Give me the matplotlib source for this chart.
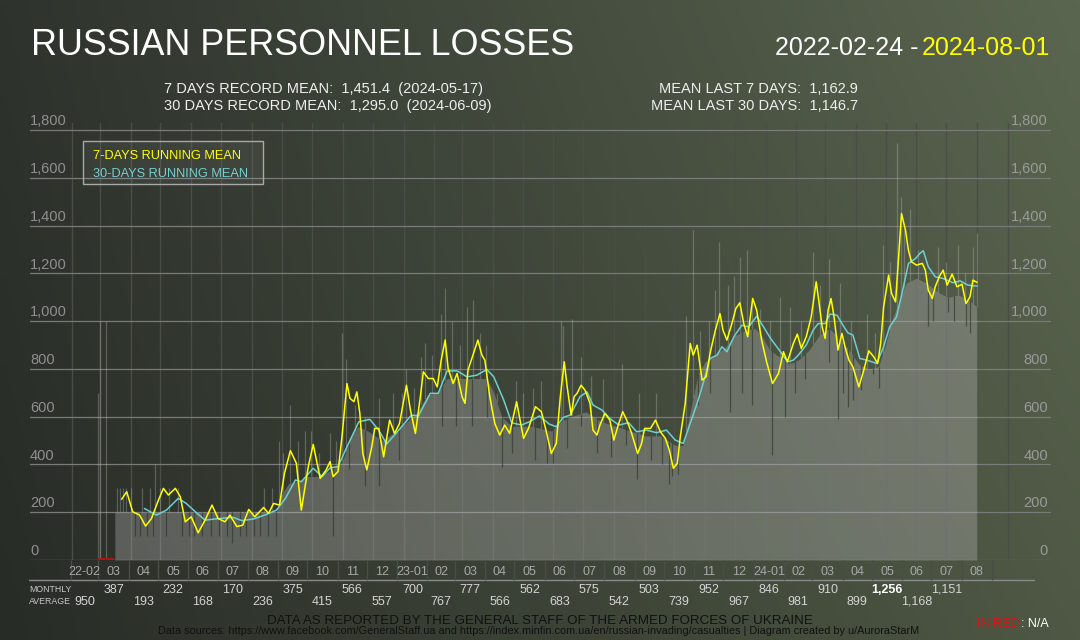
import numpy as np
import matplotlib
matplotlib.use('Agg')
import matplotlib.pyplot as plt
from matplotlib.patches import Rectangle

plt.rcParams['font.family'] = ['Liberation Sans', 'DejaVu Sans']

START = np.datetime64('2022-02-24')

# 7-day running mean: (days since 2022-02-24, value)
mean7 = [(27, 255), (32, 286), (38, 202), (45, 188), (51, 142), (57, 174), (64, 251), (69, 300),
         (74, 272), (81, 300), (86, 265), (91, 160), (97, 181), (104, 114), (111, 167), (118, 230),
         (124, 174), (131, 160), (136, 188), (143, 140), (149, 146), (155, 212), (161, 181),
         (170, 220), (175, 195), (180, 237), (186, 230), (191, 363), (197, 458), (203, 405),
         (208, 209), (215, 391), (220, 484), (227, 342), (233, 377), (237, 412), (240, 349),
         (245, 370), (249, 516), (254, 739), (257, 677), (261, 663), (264, 704), (267, 614),
         (270, 446), (274, 377), (279, 474), (282, 551), (286, 551), (291, 432), (297, 586),
         (302, 530), (307, 572), (314, 732), (318, 628), (323, 530), (328, 684), (331, 788),
         (336, 760), (341, 760), (345, 725), (349, 837), (353, 921), (356, 802), (361, 739),
         (365, 781), (370, 684), (373, 656), (376, 795), (381, 858), (386, 921), (390, 858),
         (393, 837), (398, 684), (403, 572), (408, 523), (413, 565), (418, 530), (425, 663),
         (432, 509), (437, 551), (444, 642), (450, 621), (455, 537), (460, 446), (465, 488),
         (469, 680), (473, 830), (476, 725), (480, 607), (483, 684), (486, 698), (490, 732),
         (494, 711), (499, 656), (502, 544), (506, 523), (509, 565), (514, 614), (519, 586),
         (523, 502), (528, 572), (532, 621), (536, 586), (541, 530), (547, 446), (551, 488),
         (554, 551), (560, 551), (565, 586), (570, 537), (575, 509), (579, 460), (583, 384),
         (587, 405), (590, 516), (595, 656), (600, 907), (603, 858), (607, 900), (612, 753),
         (616, 767), (620, 865), (625, 956), (630, 1032), (633, 963), (637, 921), (642, 990),
         (646, 1053), (650, 1077), (654, 990), (658, 935), (663, 1095), (667, 1046), (672, 921),
         (677, 830), (683, 739), (689, 781), (694, 872), (698, 830), (704, 907), (708, 946),
         (712, 886), (717, 935), (722, 1018), (727, 1165), (730, 1074), (733, 976), (736, 928),
         (739, 1046), (742, 1095), (745, 1018), (749, 879), (753, 949), (756, 893), (760, 837),
         (764, 809), (770, 725), (775, 795), (780, 876), (785, 851), (789, 823), (792, 907),
         (795, 1060), (800, 1193), (803, 1116), (807, 1081), (809, 1200), (811, 1325),
         (813, 1451), (817, 1381), (820, 1297), (823, 1249), (828, 1235), (834, 1242),
         (837, 1214), (840, 1130), (844, 1095), (847, 1144), (851, 1186), (855, 1214),
         (859, 1151), (864, 1197), (869, 1144), (874, 1155), (878, 1074), (882, 1102),
         (885, 1172), (889, 1163)]

# 30-day running mean
mean30 = [(50, 215), (62, 188), (72, 209), (84, 258), (92, 237), (103, 195), (111, 167),
          (126, 174), (139, 179), (148, 165), (160, 172), (173, 191), (183, 209), (192, 258),
          (202, 335), (208, 328), (220, 384), (229, 349), (237, 386), (245, 391), (254, 474),
          (266, 579), (277, 589), (286, 544), (294, 486), (304, 533), (319, 607), (326, 603),
          (338, 698), (346, 698), (355, 792), (365, 792), (375, 767), (385, 774), (395, 798),
          (402, 767), (412, 670), (420, 575), (430, 565), (438, 579), (448, 603), (458, 569),
          (465, 558), (472, 597), (479, 607), (489, 684), (496, 704), (502, 649), (511, 628),
          (519, 593), (528, 565), (538, 575), (546, 537), (556, 544), (566, 533), (576, 544),
          (585, 502), (593, 488), (600, 572), (607, 656), (613, 739), (620, 844), (627, 858),
          (632, 893), (637, 872), (644, 935), (652, 983), (659, 976), (667, 1021), (674, 976),
          (681, 928), (691, 872), (698, 830), (704, 837), (709, 858), (717, 900), (724, 963),
          (729, 990), (736, 990), (741, 1030), (748, 1025), (754, 983), (759, 951), (764, 942),
          (771, 844), (778, 837), (788, 823), (795, 893), (801, 976), (808, 1018), (815, 1144),
          (820, 1242), (827, 1262), (832, 1286), (835, 1295), (840, 1228), (847, 1186),
          (855, 1179), (865, 1161), (872, 1169), (880, 1151), (889, 1147)]

# typical daily level (body of the daily bars)
daily_base = [(20, 200), (183, 200), (186, 260), (195, 320), (205, 330), (215, 350), (225, 350),
              (235, 370), (247, 400), (250, 420), (258, 520), (265, 560), (275, 540), (290, 500),
              (300, 530), (315, 580), (325, 620), (335, 690), (345, 700), (355, 760), (395, 760),
              (402, 700), (410, 600), (420, 560), (440, 560), (460, 540), (470, 580), (480, 600),
              (495, 620), (510, 580), (525, 560), (540, 540), (555, 520), (570, 520), (585, 480),
              (593, 480), (600, 620), (608, 780), (615, 830), (625, 860), (635, 890), (645, 940),
              (655, 960), (665, 970), (672, 940), (680, 880), (690, 850), (700, 820), (710, 840),
              (720, 880), (730, 940), (740, 970), (750, 930), (760, 880), (770, 820), (780, 800),
              (790, 810), (797, 900), (803, 1000), (810, 1080), (818, 1160), (828, 1180),
              (838, 1160), (850, 1120), (860, 1100), (870, 1110), (880, 1090), (889, 1060)]

# single days well above the typical level
high_days = [(3, 700), (5, 1000), (11, 1000), (22, 300), (25, 300), (28, 300), (31, 300),
             (36, 300), (47, 300), (55, 300), (60, 400), (66, 300), (75, 300), (84, 300),
             (170, 300), (178, 300), (185, 500), (190, 450), (197, 650), (205, 500), (212, 540),
             (218, 540), (226, 450), (237, 530), (243, 500), (249, 950), (253, 840), (262, 650),
             (272, 600), (286, 680), (300, 700), (309, 700), (314, 800), (322, 720), (329, 850),
             (333, 910), (340, 860), (349, 1030), (353, 1140), (360, 1000), (368, 900),
             (375, 1060), (381, 1090), (388, 950), (394, 900), (405, 700), (424, 750), (431, 700),
             (442, 720), (450, 750), (470, 1000), (472, 980), (481, 1010), (490, 850), (500, 770),
             (512, 760), (531, 820), (548, 700), (566, 700), (596, 1020), (603, 1380), (610, 960),
             (619, 1000), (625, 1130), (629, 1330), (638, 1150), (644, 1190), (650, 1270),
             (657, 1300), (662, 1100), (670, 1050), (680, 1000), (691, 1100), (701, 1060),
             (712, 1000), (724, 1290), (731, 1150), (740, 1260), (751, 1160), (762, 1000),
             (778, 1030), (786, 950), (794, 1320), (801, 1250), (808, 1745), (812, 1520),
             (816, 1380), (822, 1470), (830, 1300), (850, 1310), (858, 1250), (870, 1320),
             (877, 1200), (885, 1310), (889, 1370)]

# single days well below the typical level
low_days = [(40, 100), (45, 100), (52, 100), (58, 100), (72, 100), (88, 100), (95, 100),
            (100, 100), (108, 100), (117, 100), (125, 100), (133, 100), (138, 70), (146, 100),
            (152, 100), (160, 100), (166, 100), (174, 100), (182, 100), (240, 100), (256, 380),
            (272, 310), (286, 310), (306, 420), (350, 560), (364, 560), (380, 560), (395, 600),
            (410, 390), (420, 450), (444, 420), (456, 405), (462, 405), (476, 470), (490, 560),
            (506, 450), (520, 430), (535, 480), (546, 340), (560, 420), (572, 400), (579, 320),
            (582, 350), (588, 360), (608, 650), (620, 700), (640, 620), (652, 700), (662, 650),
            (682, 440), (696, 600), (706, 700), (716, 760), (740, 830), (749, 590), (754, 700),
            (759, 640), (764, 670), (772, 710), (784, 780), (790, 720), (840, 980), (845, 1000),
            (860, 1040), (866, 1000), (878, 980), (882, 950)]

na_days = [0, 1, 2, 4, 6, 7, 8, 9, 10, 12, 13, 14, 15, 16, 17, 18, 19]

month_labels = ['22-02', '03', '04', '05', '06', '07', '08', '09', '10', '11', '12',
                '23-01', '02', '03', '04', '05', '06', '07', '08', '09', '10', '11', '12',
                '24-01', '02', '03', '04', '05', '06', '07', '08']
monthly_avg = [950, 387, 193, 232, 168, 170, 236, 375, 415, 566, 557, 700, 767, 777, 566,
               562, 683, 575, 542, 503, 739, 952, 967, 846, 981, 910, 899, 1256, 1168, 1151]

y_ticks = list(range(0, 1801, 200))

W, H = 1080, 640


def fx(px):
    return px / W


def fy(py):
    return 1 - py / H


fig = plt.figure(figsize=(W / 100, H / 100), dpi=100)

# background gradient
bg = fig.add_axes([0, 0, 1, 1], zorder=-10)
tl, tr = np.array([46, 51, 45]), np.array([91, 102, 80])
bl, br = np.array([40, 44, 39]), np.array([78, 88, 68])
u = np.linspace(0, 1, 108)[None, :, None]
v = np.linspace(0, 1, 64)[:, None, None]
grad = (1 - v) * ((1 - u) * tl + u * tr) + v * ((1 - u) * bl + u * br)
bg.imshow(grad / 255, aspect='auto', extent=[0, 1, 0, 1], interpolation='bilinear')
bg.axis('off')

# main chart
ax = fig.add_axes([fx(30), fy(560), (1051 - 30) / W, (560 - 123) / H])
ax.set_facecolor('none')
ax.set_xlim(-65.5, 963.7)
ax.set_ylim(0, 1830)
for s in ax.spines.values():
    s.set_visible(False)
ax.set_xticks([])
ax.set_yticks([])

months = np.arange(np.datetime64('2022-02'), np.datetime64('2024-10'))
month_days = (months.astype('datetime64[D]') - START).astype(int)
for d in month_days:
    ax.axvline(d, color='#4a4d46', lw=1, zorder=1)
for t in y_ticks:
    ax.axhline(t, color='#7a7a7a', lw=0.9, zorder=1)
    ax.text(0.0, t + 8, f'{t:,}', transform=ax.get_yaxis_transform(), ha='left',
            va='bottom', color='#8f8f8f', fontsize=10.5, zorder=6)
    ax.text(0.997, t + 8, f'{t:,}', transform=ax.get_yaxis_transform(), ha='right',
            va='bottom', color='#9a9a9a', fontsize=10.5, zorder=6)

base_d, base_v = map(np.array, zip(*daily_base))
ax.fill_between(base_d, 0, base_v, color='#c8c8c8', alpha=0.3, lw=0, zorder=2)

hd, hv = map(np.array, zip(*high_days))
ax.vlines(hd, np.interp(hd, base_d, base_v, left=0, right=0), hv,
          color='#c8c8c8', alpha=0.3, lw=0.9, zorder=2)
ld, lv = map(np.array, zip(*low_days))
ax.vlines(ld, lv, np.interp(ld, base_d, base_v), color='#262a24', alpha=0.55, lw=0.9, zorder=3)

ax.bar(na_days, 9, width=0.9, color='#b01515', zorder=3)

d30, v30 = zip(*mean30)
ax.plot(d30, v30, color='#6ecfcf', lw=1.1, zorder=4)
d7, v7 = zip(*mean7)
ax.plot(d7, v7, color='#ffff00', lw=1.1, zorder=5)

# month label row and monthly averages
lab = fig.add_axes([fx(29), 0, (1035 - 29) / W, fy(560)])
lab.set_facecolor('none')
lab.axis('off')
lab.set_xlim(-43.0, 987.0)
lab.set_ylim(640, 560)
label_edges = (months.astype('datetime64[D]') - np.datetime64('2022-02-01')).astype(int)
lab.axhline(580, color='#8a8a8a', lw=1)
lab.vlines(label_edges, 560, 580, color='#4a4d46', lw=1)
for i, name in enumerate(month_labels):
    mid = (label_edges[i] + label_edges[i + 1]) / 2
    lab.text(mid, 575, name, ha='center', va='baseline', color='#a8a8a8', fontsize=9)
for i, val in enumerate(monthly_avg):
    mid = (label_edges[i] + label_edges[i + 1]) / 2
    yy = 605 if i % 2 == 0 else 593
    bold = val == max(monthly_avg)
    lab.text(mid, yy, f'{val:,}', ha='center', va='baseline', fontsize=9,
             color='white' if bold else '#d4d4d4', fontweight='bold' if bold else 'normal')

fig.text(fx(29), fy(592), 'MONTHLY', fontsize=6.3, color='#c8c8c8', va='baseline')
fig.text(fx(29), fy(604), 'AVERAGE', fontsize=6.3, color='#c8c8c8', va='baseline')

# titles and stats
fig.text(fx(31), fy(55), 'RUSSIAN PERSONNEL LOSSES', fontsize=25.8, color='white', va='baseline')
fig.text(fx(775), fy(55), '2022-02-24 - ', fontsize=18, color='white', va='baseline', ha='left')
fig.text(fx(1050), fy(55), '2024-08-01', fontsize=18, color='#ffff00', va='baseline', ha='right')

fig.text(fx(164), fy(93), '7 DAYS RECORD MEAN:  1,451.4  (2024-05-17)', fontsize=10.5,
         color='#eeeeee', va='baseline')
fig.text(fx(164), fy(110), '30 DAYS RECORD MEAN:  1,295.0  (2024-06-09)', fontsize=10.5,
         color='#eeeeee', va='baseline')
fig.text(fx(858), fy(93), 'MEAN LAST 7 DAYS:  1,162.9', fontsize=10.5, color='#eeeeee',
         va='baseline', ha='right')
fig.text(fx(858), fy(110), 'MEAN LAST 30 DAYS:  1,146.7', fontsize=10.5, color='#eeeeee',
         va='baseline', ha='right')

# legend box
fig.patches.append(Rectangle((fx(83), fy(184)), 180 / W, 43 / H, transform=fig.transFigure,
                             facecolor=(1, 1, 1, 0.05), edgecolor='#a8a8a8', lw=1, zorder=7))
fig.text(fx(93), fy(159), '7-DAYS RUNNING MEAN', fontsize=9.2, color='#ffff00', va='baseline')
fig.text(fx(93), fy(177), '30-DAYS RUNNING MEAN', fontsize=9.2, color='#6ecfcf', va='baseline')

# footer
fig.text(0.5, fy(624), 'DATA AS REPORTED BY THE GENERAL STAFF OF THE ARMED FORCES OF UKRAINE',
         fontsize=9.6, color='#111111', ha='center', va='baseline')
fig.text(0.499, fy(634), 'Data sources: https://www.facebook.com/GeneralStaff.ua and '
         'https://index.minfin.com.ua/en/russian-invading/casualties | Diagram created by u/AuroraStarM',
         fontsize=7.8, color='#111111', ha='center', va='baseline')
fig.text(fx(1049), fy(627), ': N/A', fontsize=9, color='white', ha='right', va='baseline')
fig.text(fx(1019), fy(627), 'IN RED', fontsize=9, color='#e01010', ha='right', va='baseline')

fig.savefig('out.png', dpi=100)
